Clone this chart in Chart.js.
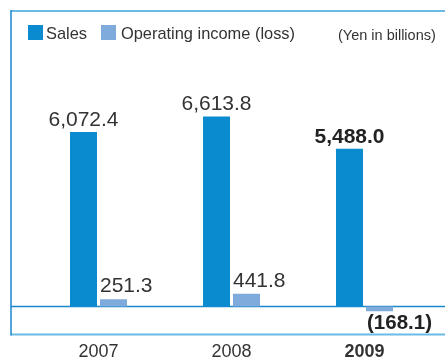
<!DOCTYPE html>
<html>
<head>
  <title>Sales and Operating Income</title>
  <script src="https://cdn.jsdelivr.net/npm/chart.js"></script>
  <style>
    html, body { margin: 0; padding: 0; background: #fff; }
    #wrap { width: 445px; height: 360px; position: relative; }
  </style>
</head>
<body>
  <div id="wrap"><canvas id="salesChart"></canvas></div>

  <script>
    // fiscal years and figures (yen in billions)
    const years = ['2007', '2008', '2009'];
    const sales = [6072.4, 6613.8, 5488.0];
    const operatingIncome = [251.3, 441.8, -168.1];
    const seriesNames = ['Sales', 'Operating income (loss)'];
    const unitNote = '(Yen in billions)';

    const SALES_BLUE = '#0a8bd0';
    const INCOME_BLUE = '#7eabdc';
    const TEXT = '#333333';
    const FONT = '"Liberation Sans", Arial, Helvetica, sans-serif';

    const fmt = v => Math.abs(v).toLocaleString('en-US', { minimumFractionDigits: 1, maximumFractionDigits: 1 });

    // frame, zero line, legend and the value labels
    const decorations = {
      id: 'decorations',
      beforeDatasetsDraw(chart) {
        const { ctx, width } = chart;
        const y0 = chart.scales.y.getPixelForValue(0);
        ctx.save();
        ctx.strokeStyle = '#6cbbe6';
        ctx.lineWidth = 2;
        ctx.beginPath();
        ctx.moveTo(11, 11); ctx.lineTo(width, 11);
        ctx.moveTo(11, 334.5); ctx.lineTo(width, 334.5);
        ctx.stroke();
        ctx.strokeStyle = '#1b87cc';
        ctx.lineWidth = 1.5;
        ctx.beginPath();
        ctx.moveTo(11, 10); ctx.lineTo(11, 335.5);
        ctx.moveTo(11, y0); ctx.lineTo(width, y0);
        ctx.stroke();
        ctx.restore();
      },
      afterDatasetsDraw(chart) {
        const { ctx } = chart;
        ctx.save();

        // legend
        ctx.font = '16.4px ' + FONT;
        ctx.textBaseline = 'alphabetic';
        ctx.textAlign = 'left';
        ctx.fillStyle = SALES_BLUE;
        ctx.fillRect(28, 25, 15, 15);
        ctx.fillStyle = TEXT;
        ctx.fillText(seriesNames[0], 46, 39);
        ctx.fillStyle = INCOME_BLUE;
        ctx.fillRect(101, 25, 15, 15);
        ctx.fillStyle = TEXT;
        ctx.fillText(seriesNames[1], 121, 39);
        ctx.font = '14.5px ' + FONT;
        ctx.fillText(unitNote, 338, 39.5);

        // sales labels above bars
        const last = years.length - 1;
        chart.getDatasetMeta(0).data.forEach((bar, i) => {
          ctx.font = (i === last ? 'bold ' : '') + '21px ' + FONT;
          ctx.textAlign = 'center';
          ctx.fillStyle = i === last ? '#222' : TEXT;
          ctx.fillText(fmt(sales[i]), bar.x, bar.y - 6);
        });

        // operating income labels, losses in brackets below the bar
        chart.getDatasetMeta(1).data.forEach((bar, i) => {
          const v = operatingIncome[i];
          const left = bar.x - bar.width / 2;
          ctx.textAlign = 'left';
          if (v < 0) {
            ctx.font = 'bold 20.5px ' + FONT;
            ctx.fillStyle = '#222';
            ctx.fillText('(' + fmt(v) + ')', left + 1, bar.y + 18);
          } else {
            ctx.font = (i === last ? 'bold ' : '') + '21px ' + FONT;
            ctx.fillStyle = TEXT;
            ctx.fillText(fmt(v), left, bar.y - 7);
          }
        });
        ctx.restore();
      }
    };

    new Chart(document.getElementById('salesChart'), {
      type: 'bar',
      data: {
        labels: years,
        datasets: [
          { label: seriesNames[0], data: sales, backgroundColor: SALES_BLUE },
          { label: seriesNames[1], data: operatingIncome, backgroundColor: INCOME_BLUE }
        ]
      },
      options: {
        responsive: true,
        maintainAspectRatio: false,
        animation: false,
        categoryPercentage: 0.451,
        barPercentage: 0.9,
        layout: { padding: { top: 105.4, left: 32, right: 14, bottom: -9.2 } },
        plugins: {
          legend: { display: false },
          tooltip: { enabled: false }
        },
        scales: {
          x: {
            grid: { display: false, drawTicks: false },
            border: { display: false },
            ticks: {
              color: TEXT,
              padding: 8,
              font: ctx => ({
                family: FONT,
                size: 18,
                lineHeight: 1,
                weight: ctx.index === years.length - 1 ? 'bold' : 'normal'
              })
            }
          },
          y: {
            display: false,
            min: -1000,
            max: 7000
          }
        }
      },
      plugins: [decorations]
    });
  </script>
</body>
</html>
